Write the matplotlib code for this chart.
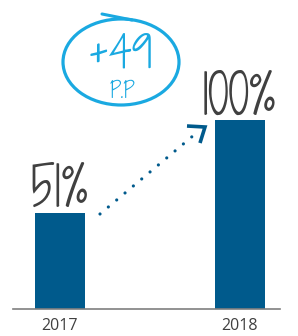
import matplotlib
matplotlib.use("Agg")
import matplotlib.pyplot as plt
from matplotlib.patches import Ellipse

categories = ["2017", "2018"]
values = [51, 100]
value_labels = ["51%", "100%"]
change_label = "+49"
change_unit = "P.P"

bar_color = "#005a8c"
text_color = "#404040"
accent = "#1aa9e1"
hand = ["Shadows Into Light Two", "DejaVu Sans"]

W, H = 298, 336
fig = plt.figure(figsize=(W / 100, H / 100), dpi=100)
base_px = 309
ax = fig.add_axes([0, (H - base_px) / H, 1, base_px / H])
px_per_unit_x = 180.0
px_per_val = 1.89
x0_px = 60
ax.set_xlim(-x0_px / px_per_unit_x, (W - x0_px) / px_per_unit_x)
ax.set_ylim(0, base_px / px_per_val)
ax.axis("off")

def dx(px):
    return (px - x0_px) / px_per_unit_x

def dy(py):
    return (base_px - py) / px_per_val

xs = list(range(len(categories)))
ax.bar(xs, values, width=50 / px_per_unit_x, color=bar_color, zorder=2)
ax.axhline(0, xmin=13 / W, xmax=280 / W, color="#7f7f7f", lw=1.2, zorder=3, clip_on=False)

for x, lab in zip(xs, categories):
    ax.annotate(lab, (x, 0), xytext=(0, -17), textcoords="offset pixels",
                ha="center", va="center", fontsize=11.5, color=text_color,
                family=["Open Sans", "DejaVu Sans"])

for x, v, lab in zip(xs, values, value_labels):
    ax.annotate(lab, (x, v), xytext=(-1, 6), textcoords="offset pixels",
                ha="center", va="baseline", fontsize=38, color=text_color,
                family=hand)

# dotted arrow
ax.plot([dx(100), dx(194)], [dy(214), dy(135)], color=bar_color, lw=2.3,
        linestyle=(0, (0.01, 3.4)), dash_capstyle="round", zorder=3)
ax.plot([dx(187), dx(205), dx(200)], [dy(126), dy(127), dy(143)],
        color=bar_color, lw=2.6, solid_capstyle="butt", solid_joinstyle="miter", zorder=3)

# circled change annotation
ell = Ellipse((dx(121), dy(62)), width=116 / px_per_unit_x, height=86 / px_per_val,
              fill=False, edgecolor=accent, lw=2.3, zorder=3)
ax.add_patch(ell)
ax.plot([dx(102), dx(132)], [dy(14), dy(20)], color=accent, lw=2.2, solid_capstyle="round")
ax.text(dx(120), dy(67), change_label, ha="center", va="baseline", fontsize=30,
        color=accent, family=hand)
ax.text(dx(123), dy(98), change_unit, ha="center", va="baseline", fontsize=15,
        color=accent, family=hand)

fig.savefig("out.png", dpi=100)
